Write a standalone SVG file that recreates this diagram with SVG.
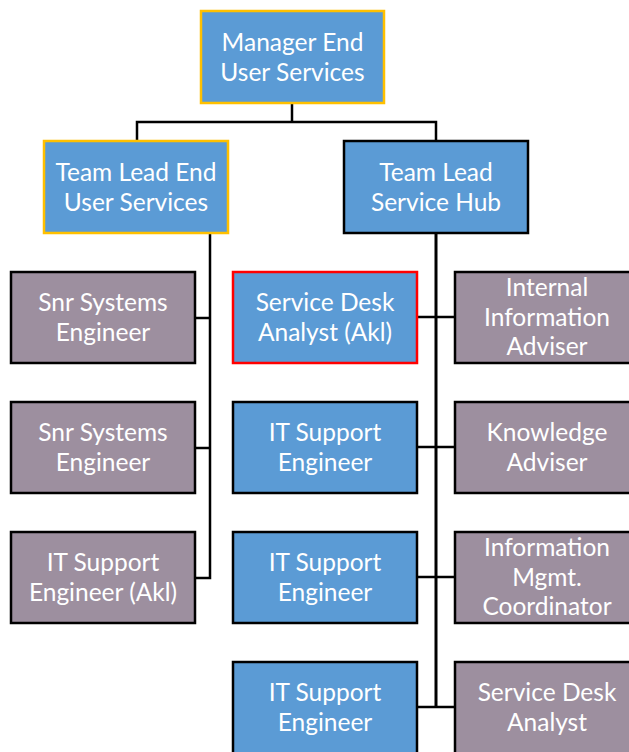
<svg xmlns="http://www.w3.org/2000/svg" width="629" height="752" viewBox="0 0 629 752">
<style>
.b{fill:#5B9BD5;stroke:#000;stroke-width:2.5}
.p{fill:#9D8F9F;stroke:#000;stroke-width:2.5}
.g{stroke:#FFC000}
.r{stroke:#FF0000}
text{font-family:Lato,"Open Sans",sans-serif;font-size:24.5px;fill:#fff;text-anchor:middle}
.c{fill:none;stroke:#000;stroke-width:2.5}
</style>
<rect width="629" height="752" fill="#fff"/>
<g id="connectors">
<polyline class="c" points="292,103 292,122"/>
<polyline class="c" points="137,141 137,122 436,122 436,141"/>
<polyline class="c" points="210,233 210,578 195,578"/>
<line class="c" x1="195" y1="318" x2="210" y2="318"/>
<line class="c" x1="195" y1="448" x2="210" y2="448"/>
<line class="c" x1="436" y1="233" x2="436" y2="708" style="stroke-width:3"/>
<line class="c" x1="417" y1="317" x2="455" y2="317"/>
<line class="c" x1="417" y1="447" x2="455" y2="447"/>
<line class="c" x1="417" y1="577" x2="455" y2="577"/>
<line class="c" x1="417" y1="707" x2="455" y2="707"/>
</g>
<g id="manager"><rect class="b g" x="201" y="11" width="183" height="92"/><text x="292.5" y="51">Manager End</text><text x="292.5" y="81">User Services</text></g>
<g id="tl-eus"><rect class="b g" x="44" y="141" width="184" height="92"/><text x="136" y="181">Team Lead End</text><text x="136" y="211">User Services</text></g>
<g id="tl-hub"><rect class="b" x="344" y="141" width="184" height="92"/><text x="436" y="181">Team Lead</text><text x="436" y="211">Service Hub</text></g>
<g id="snr1"><rect class="p" x="11" y="272" width="184" height="91"/><text x="103" y="311">Snr Systems</text><text x="103" y="341">Engineer</text></g>
<g id="snr2"><rect class="p" x="11" y="402" width="184" height="91"/><text x="103" y="441">Snr Systems</text><text x="103" y="471">Engineer</text></g>
<g id="itakl"><rect class="p" x="11" y="532" width="184" height="91"/><text x="103" y="571">IT Support</text><text x="103" y="601">Engineer (Akl)</text></g>
<g id="sdakl"><rect class="b r" x="233" y="272" width="184" height="91"/><text x="325" y="311">Service Desk</text><text x="325" y="341">Analyst (Akl)</text></g>
<g id="it1"><rect class="b" x="233" y="402" width="184" height="91"/><text x="325" y="441">IT Support</text><text x="325" y="471">Engineer</text></g>
<g id="it2"><rect class="b" x="233" y="532" width="184" height="91"/><text x="325" y="571">IT Support</text><text x="325" y="601">Engineer</text></g>
<g id="it3"><rect class="b" x="233" y="662" width="184" height="92"/><text x="325" y="701">IT Support</text><text x="325" y="731">Engineer</text></g>
<g id="iia"><rect class="p" x="455" y="272" width="184" height="91"/><text x="547" y="296">Internal</text><text x="547" y="326">Information</text><text x="547" y="355">Adviser</text></g>
<g id="ka"><rect class="p" x="455" y="402" width="184" height="91"/><text x="547" y="441">Knowledge</text><text x="547" y="471">Adviser</text></g>
<g id="imc"><rect class="p" x="455" y="532" width="184" height="91"/><text x="547" y="556">Information</text><text x="547" y="586">Mgmt.</text><text x="547" y="615">Coordinator</text></g>
<g id="sda"><rect class="p" x="455" y="662" width="184" height="92"/><text x="547" y="701">Service Desk</text><text x="547" y="731">Analyst</text></g>
</svg>
